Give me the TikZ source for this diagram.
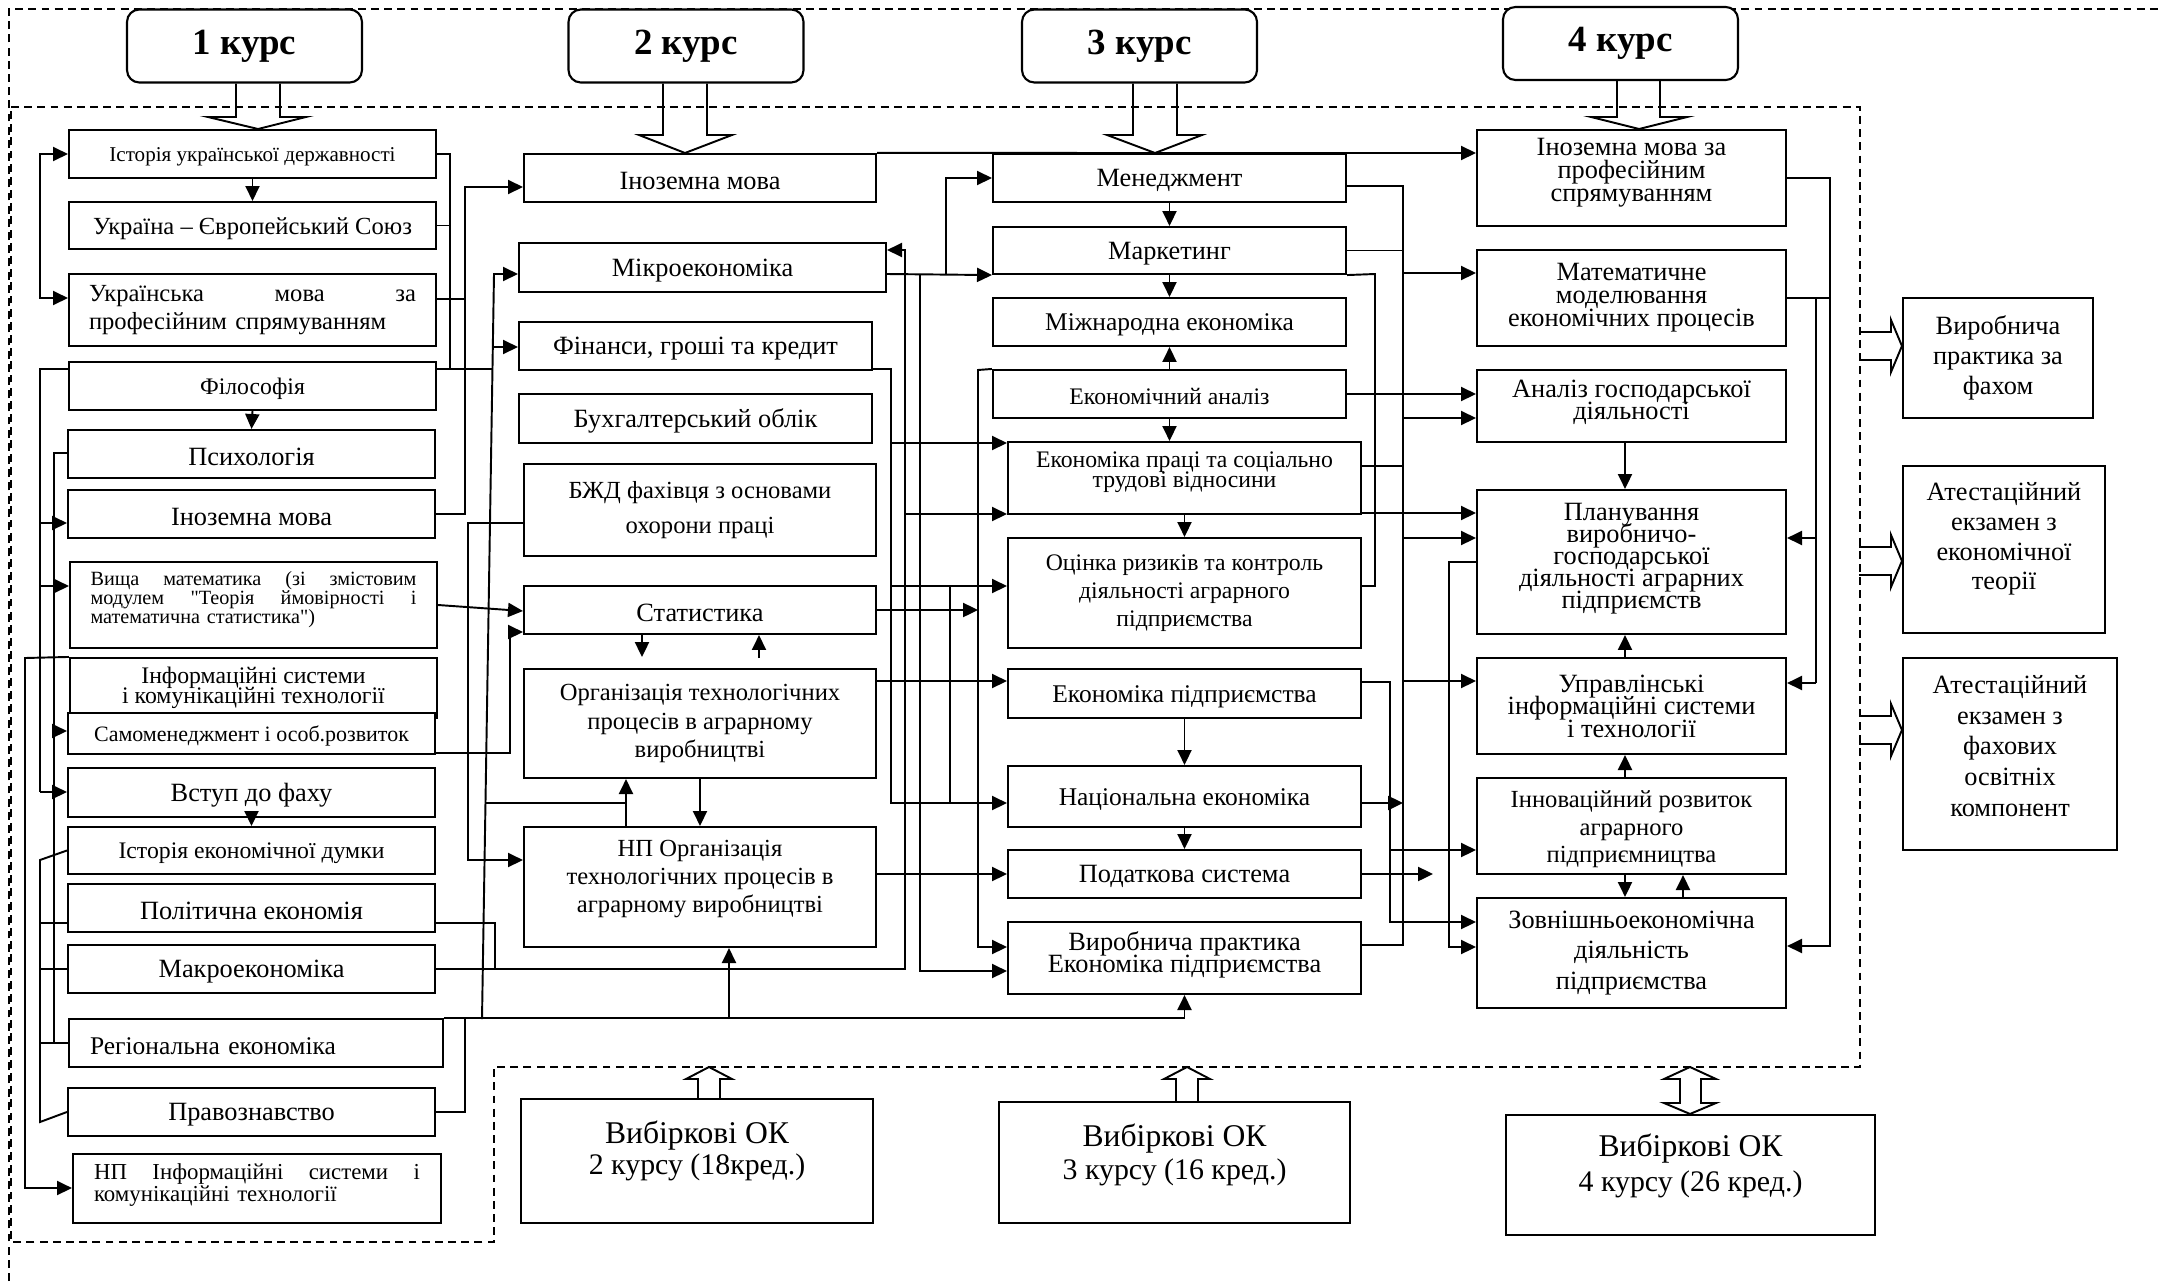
\documentclass[tikz,border=0pt]{standalone}
\usepackage{fontspec}
\setmainfont{Liberation Serif}
\usetikzlibrary{arrows.meta,calc}
\newcommand\fsz[2]{\fontsize{#1}{#2}\selectfont\lineskiplimit=-100pt\relax}
% box from corner (x1,y1) to (x2,y2), with its text in a node of its own
\newcommand\bx[7][]{%
  \node[box,minimum width={(#5-#3)*0.02cm},minimum height={(#6-#4)*0.02cm}] (#2) at ({(#3+#5)/2},{(#4+#6)/2}) {};
  \node[txt,#1] (#2t) at (#2.center) {#7};}
\begin{document}
\begin{tikzpicture}[x=0.02cm,y=-0.02cm,
 box/.style={draw,line width=1.2pt,inner sep=0pt,fill=white},
 txt/.style={inner sep=0pt,align=center},
 sl/.style={yshift=-1.6pt},
 ln/.style={line width=1.1pt},
 arr/.style={ln,-{Triangle[length=8.5pt,width=8pt]}},
 darr/.style={ln,{Triangle[length=8.5pt,width=8pt]}-{Triangle[length=8.5pt,width=8pt]}},
 dsh/.style={line width=0.9pt,dash pattern=on 4.5pt off 3pt},
 hol/.style={line width=1.1pt,line join=miter},
]
\useasboundingbox (0,0) rectangle (2159,1281);

% dashed frames
\draw[dsh] (9,1281) -- (9,9) -- (2159,9);
\draw[dsh] (11,107) -- (1860,107) -- (1860,1067) -- (494,1067) -- (494,1242) -- (11,1242) -- cycle;

% headers
\tikzset{hdr/.style={box,rounded corners=7pt,font=\fsz{21}{23}\bfseries,minimum width=4.7cm,minimum height=1.46cm}}
\node[hdr] (h1) at (244.5,46) {\raisebox{-2pt}{1 курс}};
\node[hdr] (h2) at (686,46) {\raisebox{-2pt}{2 курс}};
\node[hdr] (h3) at (1139.5,46) {\raisebox{-2pt}{3 курс}};
\node[hdr] (h4) at (1620.5,43.5) {\raisebox{-2pt}{4 курс}};

% column 1
\bx[sl,font=\fsz{12}{14}]{a1}{69}{130}{436}{178}{Історія української державності}
\bx[sl,font=\fsz{14}{16}]{a2}{69}{202}{436}{249}{Україна – Європейський Союз}
\bx[font=\fsz{14}{16},text width=6.54cm,align=left]{a3}{69}{274}{436}{346}{Українська\hfill мова\hfill за\\професійним спрямуванням}
\bx[sl,font=\fsz{13.5}{15}]{a4}{69}{362}{436}{410}{Філософія}
\bx[sl,font=\fsz{15}{17}]{a5}{68}{430}{435}{478}{Психологія}
\bx[sl,font=\fsz{15}{17}]{a6}{68}{490}{435}{538}{Іноземна мова}
\bx[font=\fsz{11.5}{10.8},text width=6.52cm,align=left,yshift=3pt]{a7}{70}{562}{437}{648}{Вища\hfill математика\hfill (зі\hfill змістовим\\модулем\hfill \textquotedbl Теорія\hfill ймовірності\hfill і\\математична статистика\textquotedbl)}
\bx[font=\fsz{13.5}{11.5}]{a8}{70}{658}{437}{718}{Інформаційні системи\\і комунікаційні технології}
\bx[sl,font=\fsz{12.5}{14}]{a9}{68}{713}{435}{754}{Самоменеджмент і особ.розвиток}
\bx[sl,font=\fsz{15}{17}]{a10}{68}{768}{435}{817}{Вступ до фаху}
\bx[sl,font=\fsz{13.5}{15}]{a11}{68}{827}{435}{874}{Історія економічної думки}
\bx[sl,font=\fsz{15}{17}]{a12}{68}{884}{435}{932}{Політична економія}
\bx[sl,font=\fsz{15}{17}]{a13}{68}{945}{435}{993}{Макроекономіка}
\bx[sl,font=\fsz{14.5}{16},text width=6.64cm,align=left]{a14}{69}{1019}{443}{1067}{Регіональна економіка}
\bx[sl,font=\fsz{15}{17}]{a15}{68}{1088}{435}{1136}{Правознавство}
\bx[font=\fsz{13}{12.5},text width=6.52cm,align=left,yshift=2pt]{a16}{73}{1154}{441}{1223}{НП\hfill Інформаційні\hfill системи\hfill і\\комунікаційні технології}

% column 2
\bx[sl,font=\fsz{15}{17}]{b1}{524}{154}{876}{202}{Іноземна мова}
\bx[sl,font=\fsz{15}{17}]{b2}{519}{243}{886}{292}{Мікроекономіка}
\bx[sl,font=\fsz{15}{17}]{b3}{519}{322}{872}{370}{Фінанси, гроші та кредит}
\bx[sl,font=\fsz{15}{17}]{b4}{519}{394}{872}{443}{Бухгалтерський облік}
\bx[font=\fsz{14}{20}]{b5}{524}{464}{876}{556}{БЖД фахівця з основами\\охорони праці}
\bx[sl,font=\fsz{15}{17}]{b6}{524}{586}{876}{634}{Статистика}
\bx[font=\fsz{14}{16}]{b7}{524}{669}{876}{778}{Організація технологічних\\процесів в аграрному\\виробництві}
\bx[font=\fsz{14}{16},yshift=4.5pt]{b8}{524}{827}{876}{947}{НП Організація\\технологічних процесів в\\аграрному виробництві}

% column 3
\bx[sl,font=\fsz{15}{17}]{c1}{993}{154}{1346}{202}{Менеджмент}
\bx[sl,font=\fsz{15}{17}]{c2}{993}{227}{1346}{274}{Маркетинг}
\bx[sl,font=\fsz{14.5}{17}]{c3}{993}{298}{1346}{346}{Міжнародна економіка}
\bx[sl,font=\fsz{13.5}{15}]{c4}{993}{370}{1346}{418}{Економічний аналіз}
\bx[font=\fsz{13.5}{11.5},yshift=3.4pt]{c5}{1008}{442}{1361}{514}{Економіка праці та соціально\\трудові відносини}
\bx[font=\fsz{13.5}{16}]{c6}{1008}{538}{1361}{648}{Оцінка ризиків та контроль\\діяльності аграрного\\підприємства}
\bx[sl,font=\fsz{14.5}{17}]{c7}{1008}{669}{1361}{718}{Економіка підприємства}
\bx[sl,font=\fsz{14.5}{17}]{c8}{1008}{766}{1361}{827}{Національна економіка}
\bx[sl,font=\fsz{15}{17}]{c9}{1008}{850}{1361}{898}{Податкова система}
\bx[font=\fsz{15}{12.5},yshift=2pt]{c10}{1008}{922}{1361}{994}{Виробнича практика\\Економіка підприємства}

% column 4
\bx[font=\fsz{15}{13.2},yshift=3pt]{d1}{1477}{130}{1786}{226}{Іноземна мова за\\професійним\\спрямуванням}
\bx[font=\fsz{15}{13}]{d2}{1477}{250}{1786}{346}{Математичне\\моделювання\\економічних процесів}
\bx[font=\fsz{15}{12.3},yshift=2pt]{d3}{1477}{370}{1786}{442}{Аналіз господарської\\діяльності}
\bx[font=\fsz{15}{12.5},yshift=2pt]{d4}{1477}{490}{1786}{634}{Планування\\виробничо-\\господарської\\діяльності аграрних\\підприємств}
\bx[font=\fsz{15}{12.8}]{d5}{1477}{658}{1786}{754}{Управлінські\\інформаційні системи\\і технології}
\bx[font=\fsz{14}{15.6},yshift=-2pt]{d6}{1477}{778}{1786}{874}{Інноваційний розвиток\\аграрного\\підприємництва}
\bx[font=\fsz{15}{17.5}]{d7}{1477}{898}{1786}{1008}{Зовнішньоекономічна\\діяльність\\підприємства}

% right column
\bx[font=\fsz{15}{17}]{e1}{1903}{298}{2093}{418}{Виробнича\\практика за\\фахом}
\bx[font=\fsz{15}{17},yshift=6pt]{e2}{1903}{466}{2105}{633}{Атестаційний\\екзамен з\\економічної\\теорії}
\bx[font=\fsz{15}{17.5},yshift=4.5pt]{e3}{1903}{658}{2117}{850}{Атестаційний\\екзамен з\\фахових\\освітніх\\компонент}

% bottom
\bx[font=\fsz{18}{18},yshift=5.7pt]{f1}{521}{1099}{873}{1223}{Вибіркові ОК\\{\fsz{17}{18}2 курсу (18кред.)}}
\bx[font=\fsz{18}{19},yshift=4.5pt]{f2}{999}{1102}{1350}{1223}{Вибіркові ОК\\{\fsz{17}{19}3 курсу (16 кред.)}}
\bx[font=\fsz{18}{20},yshift=5pt]{f3}{1506}{1115}{1875}{1235}{Вибіркові ОК\\{\fsz{17}{20}4 курсу (26 кред.)}}

% ---------- connectors: column 1 ----------
\draw[darr] (a1.west) -| (40,298) -- (a3.west |- 0,298);
\draw[arr] (a1.south) -- (a2.north);
\draw[arr] (a4.south) -- (a5.north);
\draw[arr] (a10.south) -- (a11.north);
\draw[ln] (a1.east) -| (450,369);
\draw[ln] (a2.east) -- (a2.east -| 450,0);
\draw[ln] (a4.east |- 0,369) -- (492.5,369);
\draw[ln] (a3.east |- 0,299) -- (465,299);
\draw[arr] (a6.east) -| (465,187) -- (b1.west |- 0,187);
\draw[arr] (482,1019) -- (494,274) -- (b2.west |- 0,274);
\draw[arr] (492.8,347) -- (b3.west |- 0,347);
\draw[arr] (a14.north east) -| (c10.south);
\draw[arr] (729,1019) -- (729,0 |- b8.south);
\draw[ln] (a15.east) -| (465,1019);
\draw[ln] (485.5,803) -- (626,803);
\draw[arr] (626,0 |- b8.north) -- (626,0 |- b7.south);
\draw[ln] (a4.west |- 0,369) -- (40,369) -- (40,792);
\draw[arr] (40,523) -- (a6.west |- 0,523);
\draw[arr] (40,586) -- (a7.west |- 0,586);
\draw[arr] (40,792) -- (a10.west |- 0,792);
\draw[ln] (a5.west |- 0,453) -- (54,453) -- (54,1043) -- (a14.west |- 0,1043);
\draw[arr] (54,731) -- (a9.west |- 0,731);
\draw[arr] (a8.north west) -- (25,658) -- (25,1188) -- (a16.west |- 0,1188);
\draw[ln] (a11.west) -- (40,860) -- (40,1122) -- (a15.west);
\draw[ln] (40,923) -- (a12.west |- 0,923);
\draw[ln] (40,969) -- (a13.west |- 0,969);
\draw[ln] (40,1043) -- (54,1043);
\draw[arr] (a7.east) -- (b6.west |- 0,611);
\draw[arr] (a9.east |- 0,753) -- (510,753) -- (510,632) -- (b6.west |- 0,632);
\draw[arr] (b5.west |- 0,523) -- (468,523) -- (468,860) -- (b8.west |- 0,860);
\draw[ln] (a12.east |- 0,923) -| (495,969);
\draw[arr] (a13.east |- 0,969) -- (905,969) -- (905,250) -- (b2.east |- 0,250);

% ---------- column 2 -> column 3 ----------
\draw[arr] (b2.east |- 0,274) -- (c2.south west);
\draw[arr] (946,274) -- (946,178) -- (c1.west |- 0,178);
\draw[arr] (920,274) -- (920,971) -- (c10.west |- 0,971);
\draw[arr] (b3.east |- 0,369) -- (891,369) -- (891,803) -- (c8.west |- 0,803);
\draw[arr] (891,443) -- (c5.west |- 0,443);
\draw[arr] (905,514) -- (c5.west |- 0,514);
\draw[arr] (891,586) -- (c6.west |- 0,586);
\draw[ln] (950,586) -- (950,803);
\draw[arr] (b6.east |- 0,610) -- (978,610);
\draw[arr] (b7.east |- 0,681) -- (c7.west |- 0,681);
\draw[arr] (b8.east |- 0,874) -- (c9.west |- 0,874);
\draw[arr] (c4.north west) -- (978,370) -- (978,947) -- (c10.west |- 0,947);
\draw[arr] (b1.north east) -- (d1.west |- 0,153);
\draw[arr] (642,0 |- b6.south) -- (642,657);
\draw[arr] (759,658) -- (759,0 |- b6.south);
\draw[arr] (700,0 |- b7.south) -- (700,0 |- b8.north);

% ---------- column 3 ----------
\draw[arr] (c1.south) -- (c2.north);
\draw[arr] (c2.south) -- (c3.north);
\draw[arr] (c4.north) -- (c3.south);
\draw[arr] (c4.south) -- (c4.south |- c5.north);
\draw[arr] (c5.south) -- (c6.north);
\draw[arr] (c7.south) -- (c8.north);
\draw[arr] (c8.south) -- (c9.north);

% ---------- column 3 -> column 4 ----------
\draw[ln] (c1.east |- 0,186) -- (1403,186) -- (1403,945) -- (c10.east |- 0,945);
\draw[ln] (c2.east) -- (c2.east -| 1403,0);
\draw[ln] (c5.east |- 0,466) -- (1403,466);
\draw[arr] (1403,273) -- (d2.west |- 0,273);
\draw[arr] (1403,418) -- (d3.west |- 0,418);
\draw[arr] (1403,538) -- (d4.west |- 0,538);
\draw[arr] (1403,681) -- (d5.west |- 0,681);
\draw[ln] (c2.south east) -- (1375,274) -- (1375,586) -- (c6.east |- 0,586);
\draw[arr] (c4.east |- 0,394) -- (d3.west |- 0,394);
\draw[arr] (c5.east |- 0,513) -- (d4.west |- 0,513);
\draw[arr] (c7.east |- 0,682) -- (1390,682) -- (1390,922) -- (d7.west |- 0,922);
\draw[arr] (1390,850) -- (d6.west |- 0,850);
\draw[arr] (c8.east |- 0,803) -- (1403,803);
\draw[arr] (c9.east |- 0,874) -- (1433,874);
\draw[arr] (d4.west |- 0,562) -- (1449,562) -- (1449,947) -- (d7.west |- 0,947);

% ---------- column 4 ----------
\draw[arr] (d1.east |- 0,178) -- (1830,178) -- (1830,946) -- (d7.east |- 0,946);
\draw[ln] (d2.east |- 0,298) -- (1830,298);
\draw[ln] (1816,298) -- (1816,683);
\draw[arr] (1816,538) -- (d4.east |- 0,538);
\draw[arr] (1816,683) -- (d5.east |- 0,683);
\draw[arr] (1625,0 |- d3.south) -- (1625,0 |- d4.north);
\draw[arr] (1625,0 |- d5.north) -- (1625,0 |- d4.south);
\draw[arr] (1625,0 |- d6.north) -- (1625,0 |- d5.south);
\draw[arr] (1625,0 |- d6.south) -- (1625,0 |- d7.north);
\draw[arr] (1683,0 |- d7.north) -- (1683,0 |- d6.south);

% ---------- hollow block arrows ----------
\draw[hol] (236,0 |- h1.south) -- (236,117) -- (208,117) -- (258,129) -- (306,117) -- (280,117) -- (280,0 |- h1.south);
\draw[hol] (663,0 |- h2.south) -- (663,135) -- (639,135) -- (685,153) -- (732,135) -- (707,135) -- (707,0 |- h2.south);
\draw[hol] (1133,0 |- h3.south) -- (1133,135) -- (1107,135) -- (1155,153) -- (1202,135) -- (1177,135) -- (1177,0 |- h3.south);
\draw[hol] (1617,0 |- h4.south) -- (1617,117) -- (1591,117) -- (1639,129) -- (1687,117) -- (1660,117) -- (1660,0 |- h4.south);

\foreach \yy/\tg in {346/e1,561/e2,730/e3}{
  \draw[hol] (1859,\yy-14) -- (1891,\yy-14) -- (1891,\yy-26) -- (\tg.west |- 0,\yy) -- (1891,\yy+26) -- (1891,\yy+14) -- (1859,\yy+14);
}
\draw[hol] (698,0 |- f1.north) -- (698,1079) -- (686,1079) -- (709,1067) -- (732,1079) -- (720,1079) -- (720,0 |- f1.north);
\draw[hol] (1176,0 |- f2.north) -- (1176,1079) -- (1164,1079) -- (1187,1067) -- (1210,1079) -- (1198,1079) -- (1198,0 |- f2.north);
\draw[hol] (1680,1079) -- (1664,1079) -- (1690,1067) -- (1716,1079) -- (1701,1079) -- (1701,1103) -- (1716,1103) -- (1690,0 |- f3.north) -- (1664,1103) -- (1680,1103) -- cycle;
\end{tikzpicture}
\end{document}
